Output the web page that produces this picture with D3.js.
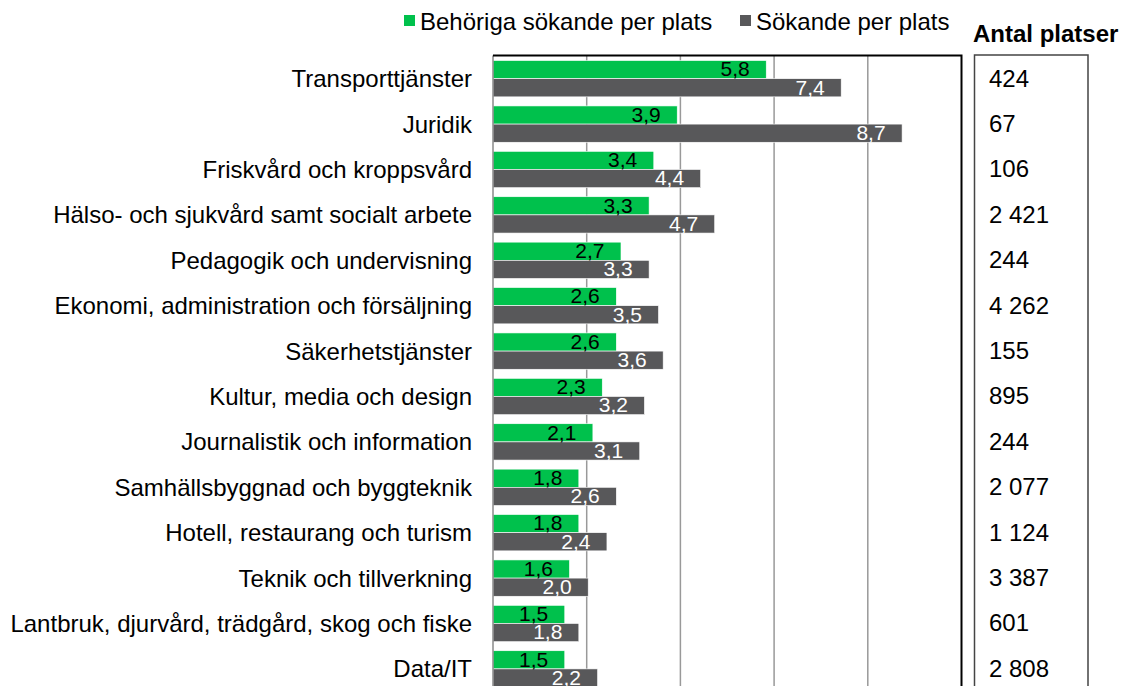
<!DOCTYPE html>
<html><head><meta charset="utf-8">
<script src="https://cdn.jsdelivr.net/npm/d3@7"></script>
<style>
html,body{margin:0;padding:0;background:#fff;}
svg{display:block;font-family:"Liberation Sans",Arial,sans-serif;}
</style></head>
<body>
<svg id="chart" width="1128" height="686"></svg>
<script>
const categories = [
  "Transporttjänster","Juridik","Friskvård och kroppsvård",
  "Hälso- och sjukvård samt socialt arbete","Pedagogik och undervisning",
  "Ekonomi, administration och försäljning","Säkerhetstjänster",
  "Kultur, media och design","Journalistik och information",
  "Samhällsbyggnad och byggteknik","Hotell, restaurang och turism",
  "Teknik och tillverkning","Lantbruk, djurvård, trädgård, skog och fiske","Data/IT"
];
const behoriga = [5.8,3.9,3.4,3.3,2.7,2.6,2.6,2.3,2.1,1.8,1.8,1.6,1.5,1.5];
const sokande  = [7.4,8.7,4.4,4.7,3.3,3.5,3.6,3.2,3.1,2.6,2.4,2.0,1.8,2.2];
const antalPlatser = [424,67,106,2421,244,4262,155,895,244,2077,1124,3387,601,2808];
const seriesNames = ["Behöriga sökande per plats","Sökande per plats"];
const tableTitle = "Antal platser";
const xTicks = [2,4,6,8];

(function(){
const GREEN = "#00c14c", GREY = "#58585a";
const loc = d3.formatLocale({decimal:",", thousands:"\u00a0", grouping:[3], currency:["","kr"]});
const fmtVal = loc.format(".1f"), fmtInt = loc.format(",d");

const svg = d3.select("#chart");
const pLeft = 493, pRight = 961.5, pTop = 56, step = 45.4;
const x = d3.scaleLinear().domain([0,10]).range([pLeft,pRight]);
const y = d3.scaleBand().domain(categories).range([pTop, pTop + step*categories.length])
  .paddingInner(0.2).paddingOuter(0.1);
const sub = d3.scaleBand().domain([0,1]).range([0, y.bandwidth()]);

// gridlines
svg.append("g").selectAll("line").data(xTicks).join("line")
  .attr("x1", d=>x(d)).attr("x2", d=>x(d)).attr("y1", pTop-0.5).attr("y2", 700)
  .attr("stroke","#999").attr("stroke-width",1.5);

const rows = categories.map((c,i)=>({c, vals:[behoriga[i], sokande[i]], n: antalPlatser[i]}));

const g = svg.append("g");
const row = g.selectAll("g.row").data(rows).join("g").attr("class","row")
  .attr("transform", d=>`translate(0,${y(d.c)})`);
row.selectAll("rect").data(d=>d.vals).join("rect")
  .attr("x", x(0)).attr("y", (d,i)=>sub(i)).attr("width", d=>x(d)-x(0)+1.5).attr("height", sub.bandwidth())
  .attr("fill", (d,i)=> i===0?GREEN:GREY).attr("stroke","#fff").attr("stroke-width",0.6);
row.selectAll("text.val").data(d=>d.vals).join("text").attr("class","val")
  .attr("x", d=>x(d)-15).attr("y", (d,i)=>sub(i)+sub.bandwidth()-2.3)
  .attr("text-anchor","end").attr("font-size","21px")
  .attr("fill",(d,i)=> i===0?"#000":"#fff").text(d=>fmtVal(d));

// category labels
svg.append("g").selectAll("text").data(categories).join("text")
  .attr("x", 472).attr("y", d=>y(d)+y.bandwidth()/2+8.4)
  .attr("text-anchor","end").attr("font-size","24px").attr("fill","#000").text(d=>d);

// plot borders
svg.append("line").attr("x1",pLeft).attr("x2",pLeft).attr("y1",pTop-0.5).attr("y2",700)
  .attr("stroke","#8a8a8a").attr("stroke-width",1.5);
svg.append("path").attr("d",`M${pLeft},${pTop-0.5}H${pRight}V700`).attr("fill","none")
  .attr("stroke","#000").attr("stroke-width",2);

// table
svg.append("path").attr("d",`M974.5,700V55H1088V700`).attr("fill","none")
  .attr("stroke","#444").attr("stroke-width",1.5);
svg.append("g").selectAll("text").data(rows).join("text")
  .attr("x", 989).attr("y", d=>y(d.c)+y.bandwidth()/2+7.8)
  .attr("font-size","24px").attr("fill","#000").text(d=>fmtInt(d.n));
svg.append("text").attr("x",973).attr("y",42).attr("font-size","24px").attr("font-weight","bold")
  .attr("fill","#000").text(tableTitle);

// legend
const legX = [404, 740];
const leg = svg.append("g").selectAll("g").data(seriesNames).join("g")
  .attr("transform",(d,i)=>`translate(${legX[i]},0)`);
leg.append("rect").attr("x",0).attr("y",15).attr("width",11).attr("height",11)
  .attr("fill",(d,i)=> i===0?GREEN:GREY);
leg.append("text").attr("x",16).attr("y",30).attr("font-size","24px").attr("fill","#000").text(d=>d);
})();
</script>
</body></html>
